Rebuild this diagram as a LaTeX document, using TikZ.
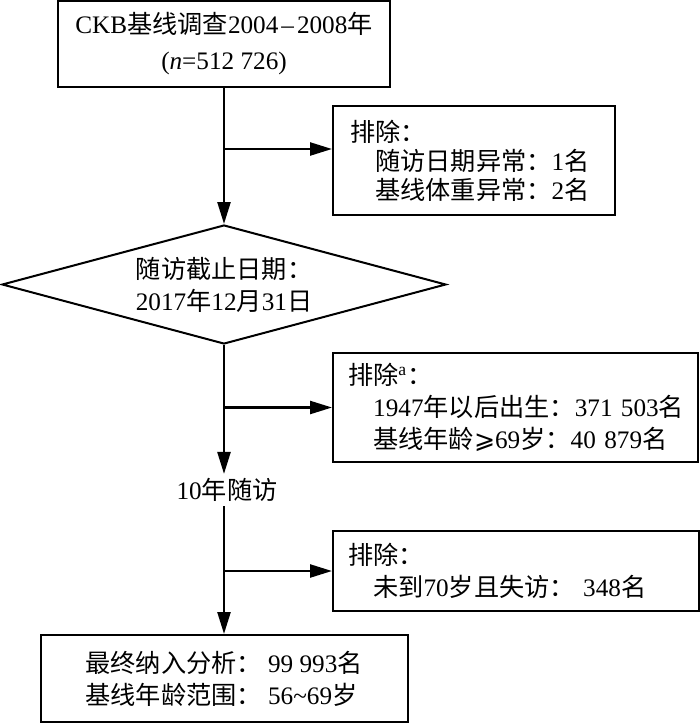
\documentclass[tikz,border=0pt]{standalone}
\usepackage{fontspec}
\setmainfont{Liberation Serif}
\newfontfamily\cjk{Noto Sans CJK SC}
\newfontfamily\dejavu{DejaVu Sans}
\usetikzlibrary{shapes.geometric,arrows.meta}
\newcommand\zh[1]{{\cjk #1}}

\begin{document}
\begin{tikzpicture}[x=0.5pt, y=-0.5pt,
     every node/.style={font=\fontsize{12.6}{16}\selectfont},
     stagebox/.style={draw, line width=1pt, inner sep=0pt, align=center},
     exclbox/.style={draw, line width=1pt, inner xsep=7.5pt, inner ysep=0pt, align=left},
     cutoffdiamond/.style={draw, diamond, line width=1pt, inner sep=0pt, align=left,
                           minimum width=222pt, minimum height=59.5pt, shape aspect=3.7},
     flowarrow/.style={line width=1.2pt, -{Triangle[length=11pt,width=6.5pt]}}]

   \useasboundingbox (0,0) rectangle (700,723);

   % main column
   \node[stagebox, minimum width=166pt, minimum height=43pt,
         font=\fontsize{12.6}{18}\selectfont] (study) at (224,44)
        {CKB\zh{基线调查}2004\kern1.5pt–\kern1.5pt2008\zh{年}\\(\textit{n}=512~726)};
   \node[cutoffdiamond] (cutoff) at (224,284.5)
        {\zh{随访截止日期：}\\2017\zh{年}12\zh{月}31\zh{日}};
   \node[inner sep=2pt] (follow) at (227,490) {10\zh{年随访}};
   \node[stagebox, align=left, minimum width=183.5pt, minimum height=43.5pt] (final) at (224,678.5)
        {\zh{最终纳入分析：} 99~993\zh{名}\\\zh{基线年龄范围：} 56\textasciitilde 69\zh{岁}};

   % exclusions
   \node[exclbox, text width=124pt, inner xsep=8.5pt, minimum height=54.5pt,
         font=\fontsize{12.6}{14.5}\selectfont] (excl1) at (474,160.5)
        {\zh{排除：}\\\hspace*{1em}\zh{随访日期异常：}1\zh{名}\\\hspace*{1em}\zh{基线体重异常：}2\zh{名}};
   \node[exclbox, text width=167.5pt, minimum height=54.5pt] (excl2) at (515.5,407.5)
        {\zh{排除}\textsuperscript{a}\zh{：}\\\hspace*{1em}1947\zh{年以后出生：}371~503\zh{名}\\\hspace*{1em}\zh{基线年龄}{\dejavu ⩾}69\zh{岁：}40~879\zh{名}};
   \node[exclbox, text width=168pt, minimum height=40pt] (excl3) at (516,571)
        {\zh{排除：}\\\hspace*{1em}\zh{未到}70\zh{岁且失访：} 348\zh{名}};

   \coordinate (split1) at (224,149);

   \draw[flowarrow] (study) -- (cutoff);
   \draw[flowarrow] (split1) -- (split1 -| excl1.west);
   \draw[flowarrow] (cutoff.south) -- (cutoff.south |- follow.north);
   \draw[flowarrow] (cutoff.south |- excl2.west) -- (excl2.west);
   \draw[flowarrow] (cutoff.south |- follow.south) -- (final);
   \draw[flowarrow] (cutoff.south |- excl3.west) -- (excl3.west);
\end{tikzpicture}
\end{document}
